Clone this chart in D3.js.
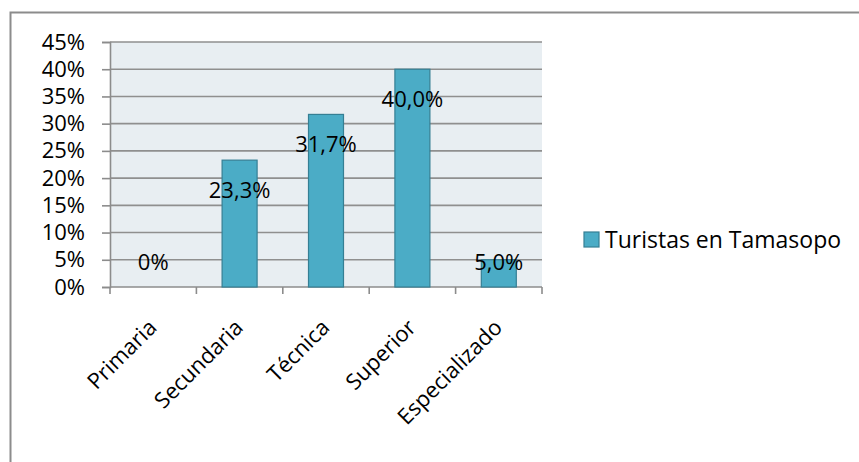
<!DOCTYPE html>
<html>
<head>
<meta charset="utf-8">
<script src="https://cdn.jsdelivr.net/npm/d3@7"></script>
<style>
  body { margin: 0; background: #fff; }
  svg { font-family: "Open Sans", "Noto Sans", sans-serif; }
</style>
</head>
<body>
<div id="chart"></div>
<script>
const categories = ["Primaria", "Secundaria", "Técnica", "Superior", "Especializado"];
const values = [0, 0.233, 0.317, 0.40, 0.05];
const valueLabels = ["0%", "23,3%", "31,7%", "40,0%", "5,0%"];
const yTicks = [0, 0.05, 0.10, 0.15, 0.20, 0.25, 0.30, 0.35, 0.40, 0.45];
const seriesName = "Turistas en Tamasopo";

(function() {
    const width = 859, height = 462;
    const plot = {left: 110, right: 542, top: 42, bottom: 287};
    const fs = 22;

    const svg = d3.select("#chart").append("svg")
        .attr("width", width)
        .attr("height", height);

    // outer chart frame (cut off at right / bottom like the picture)
    svg.append("rect")
        .attr("x", 10.5).attr("y", 12.5)
        .attr("width", 900).attr("height", 500)
        .attr("fill", "#fff")
        .attr("stroke", "#8c8c8c")
        .attr("stroke-width", 2);

    const x = d3.scaleBand()
        .domain(categories)
        .range([plot.left, plot.right])
        .paddingInner(0.595)
        .paddingOuter(0.2975);

    const y = d3.scaleLinear()
        .domain([0, 0.45])
        .range([plot.bottom, plot.top]);

    // plot background
    svg.append("rect")
        .attr("x", plot.left).attr("y", plot.top)
        .attr("width", plot.right - plot.left)
        .attr("height", plot.bottom - plot.top)
        .attr("fill", "#e8eef2");

    // gridlines
    svg.append("g")
        .selectAll("line")
        .data(yTicks.slice(1))
        .enter()
        .append("line")
        .attr("x1", plot.left).attr("x2", plot.right)
        .attr("y1", d => y(d)).attr("y2", d => y(d))
        .attr("stroke", "#8f8f8f")
        .attr("stroke-width", 1.6);

    // y axis
    const yAxis = svg.append("g")
        .attr("transform", "translate(" + plot.left + ",0)")
        .call(d3.axisLeft(y).tickValues(yTicks).tickSize(8).tickPadding(17)
            .tickFormat(d => Math.round(d * 100) + "%"));
    yAxis.select(".domain").attr("stroke", "#8c8c8c").attr("stroke-width", 1.6);
    yAxis.selectAll(".tick line").attr("stroke", "#8c8c8c").attr("stroke-width", 1.6);
    yAxis.selectAll("text")
        .attr("font-size", fs)
        .attr("font-family", "'Open Sans', sans-serif")
        .attr("fill", "#000");

    // x axis: ticks at band boundaries
    const edges = categories.map(c => x(c) - x.step() * x.paddingInner() / 2);
    edges.push(plot.right);
    svg.append("line")
        .attr("x1", plot.left).attr("x2", plot.right)
        .attr("y1", plot.bottom).attr("y2", plot.bottom)
        .attr("stroke", "#8c8c8c").attr("stroke-width", 1.6);
    svg.append("g")
        .selectAll("line")
        .data(edges)
        .enter()
        .append("line")
        .attr("x1", d => d).attr("x2", d => d)
        .attr("y1", plot.bottom).attr("y2", plot.bottom + 7)
        .attr("stroke", "#8c8c8c").attr("stroke-width", 1.6);

    // bars
    svg.append("g")
        .selectAll("rect")
        .data(values)
        .enter()
        .append("rect")
        .attr("x", (d, i) => x(categories[i]))
        .attr("y", d => y(d))
        .attr("width", x.bandwidth())
        .attr("height", d => y(0) - y(d))
        .attr("fill", "#4bacc6")
        .attr("stroke", "#357f94")
        .attr("stroke-width", 1.2)
        .style("display", d => d > 0 ? null : "none");

    // value labels
    svg.append("g")
        .selectAll("text")
        .data(values)
        .enter()
        .append("text")
        .attr("x", (d, i) => x(categories[i]) + x.bandwidth() / 2)
        .attr("y", d => Math.min(y(d) + 30, y(0) - 25))
        .attr("dy", "0.35em")
        .attr("text-anchor", "middle")
        .attr("font-size", fs)
        .text((d, i) => valueLabels[i]);

    // category labels, rotated
    svg.append("g")
        .selectAll("text")
        .data(categories)
        .enter()
        .append("text")
        .attr("transform", c => "translate(" + (x(c) + x.bandwidth() / 2 - 6) + "," + (plot.bottom + 31) + ") rotate(-45)")
        .attr("text-anchor", "end")
        .attr("dy", "0.7em")
        .attr("font-size", fs)
        .text(c => c);

    // legend
    const lg = svg.append("g").attr("transform", "translate(584,232)");
    lg.append("rect")
        .attr("width", 15).attr("height", 15)
        .attr("fill", "#4bacc6")
        .attr("stroke", "#357f94")
        .attr("stroke-width", 1.2);
    lg.append("text")
        .attr("x", 21).attr("y", 8)
        .attr("dy", "0.35em")
        .attr("font-size", 23)
        .text(seriesName);
})();
</script>
</body>
</html>
